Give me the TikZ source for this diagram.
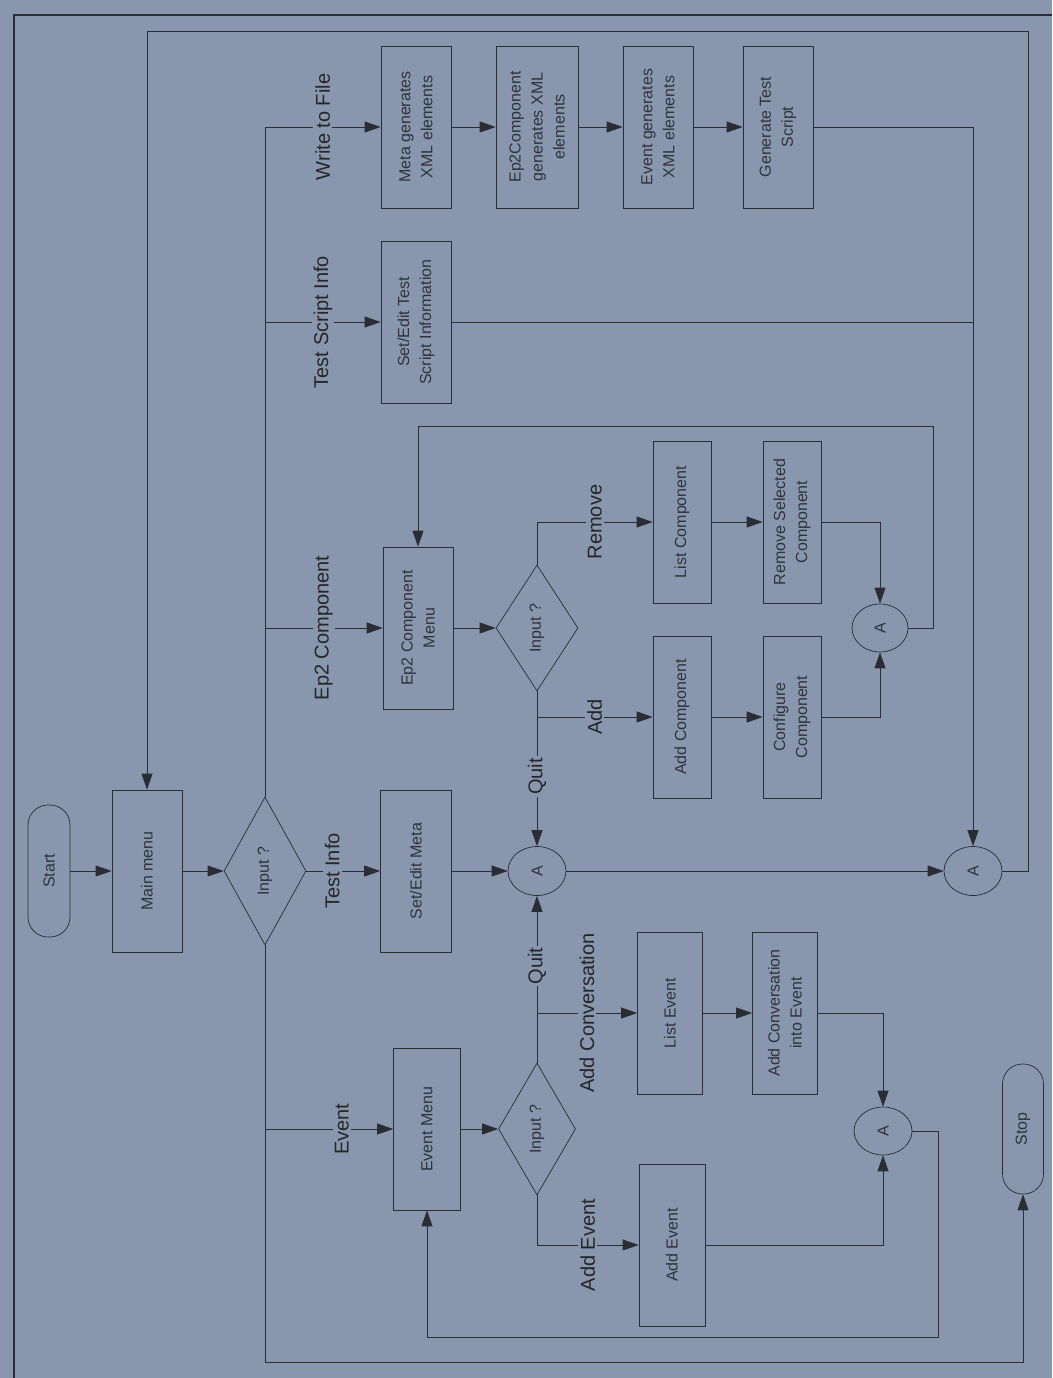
\documentclass[tikz,border=0pt]{standalone}
\usepackage{fontspec}
\setmainfont{Liberation Sans}
\usetikzlibrary{arrows.meta,calc,positioning,shapes.geometric}
\definecolor{BgClr}{RGB}{136,151,174}
\definecolor{LineClr}{RGB}{42,45,52}
\definecolor{TxtClr}{RGB}{48,50,58}

\begin{document}
\begin{tikzpicture}[x=1pt,y=-1pt,
  every node/.style={rotate=90,font=\fontsize{16}{22}\selectfont,text=TxtClr},
  box/.style={draw=LineClr,line width=0.7pt,minimum width=162pt,minimum height=70pt,inner sep=1pt,align=center},
  term/.style={draw=LineClr,line width=0.7pt,rounded corners=20pt,inner sep=1pt},
  dia/.style={diamond,draw=LineClr,line width=0.7pt,inner sep=0pt},
  ell/.style={ellipse,draw=LineClr,line width=0.7pt,minimum width=49pt,minimum height=58pt,inner sep=0pt},
  lbl/.style={fill=BgClr,inner sep=2pt,font=\fontsize{20}{24}\selectfont,text=black!85},
  conn/.style={draw=LineClr,line width=0.8pt},
  arr/.style={conn,-{Triangle[length=16pt,width=11pt]}}]

\fill[BgClr] (0,0) rectangle (1052,1378);
\useasboundingbox (0,0) rectangle (1052,1378);
\draw[LineClr,line width=1.2pt] (14,1378) -- (14,15) -- (1052,15);

\coordinate (lp1) at (1028,31);
\coordinate (lp2) at (933,426);
\coordinate (lp3) at (938,1337);
\coordinate (sc) at (1023,1362);

\node[term,minimum width=132pt,minimum height=42pt] (start) at (49,871) {Start};
\node[box] (mm) at (147,871) {Main menu};
\node[dia,minimum width=148pt,minimum height=82pt] (dm) at (265,871) {Input ?};

\node[box] (metax) at (416,127) {Meta generates\\XML elements};
\node[box,minimum height=82pt] (ep2x) at (537,127) {Ep2Component\\generates XML\\elements};
\node[box] (evx) at (658,127) {Event generates\\XML elements};
\node[box] (gts) at (778,127) {Generate Test\\Script};
\node[box] (sets) at (416,322) {Set/Edit Test\\Script Information};

\node[box] (ep2m) at (418,628) {Ep2 Component\\Menu};
\node[dia,minimum width=126pt,minimum height=82pt] (d2) at (537,628) {Input ?};
\node[box,minimum height=58pt] (lc) at (682,522) {List Component};
\node[box,minimum height=58pt] (rsc) at (792,522) {Remove Selected\\Component};
\node[box,minimum height=58pt] (addc) at (682,717) {Add Component};
\node[box,minimum height=58pt] (cfg) at (792,717) {Configure\\Component};
\node[ell,minimum width=48pt,minimum height=56pt] (ea2) at (880,628) {A};

\node[box,minimum height=71pt] (sem) at (416,871) {Set/Edit Meta};
\node[ell] (ma) at (537,871) {A};
\node[ell] (fa) at (973,871) {A};

\node[box,minimum height=67pt] (evm) at (427,1129) {Event Menu};
\node[dia,minimum width=132pt,minimum height=77pt] (d3) at (537,1129) {Input ?};
\node[box,minimum height=65pt] (le) at (670,1013) {List Event};
\node[box,minimum height=65pt] (ace) at (785,1013) {Add Conversation\\into Event};
\node[box,minimum height=66pt] (ae) at (672,1245) {Add Event};
\node[ell,minimum width=48pt,minimum height=58pt] (ea3) at (883,1131) {A};
\node[term,minimum width=130pt,minimum height=41pt] (stop) at (1023,1129) {Stop};

\draw[arr] (start) -- (mm);
\draw[arr] (mm) -- (dm);
\draw[arr] (dm) |- (metax) node[lbl,pos=0.75] {Write to File};
\draw[arr] (dm) |- (sets) node[lbl,pos=0.75] {Test Script Info};
\draw[arr] (dm) |- (ep2m) node[lbl,pos=0.75] {Ep2 Component};
\draw[arr] (dm) -- (sem) node[lbl,pos=0.35] {Test Info};
\draw[arr] (dm) |- (evm) node[lbl,pos=0.8] {Event};
\draw[arr] (dm) |- (sc) -- (stop);

\draw[arr] (metax) -- (ep2x);
\draw[arr] (ep2x) -- (evx);
\draw[arr] (evx) -- (gts);
\draw[arr] (gts) -| (fa);
\draw[conn] (sets) -- (sets -| fa);

\draw[arr] (ep2m) -- (d2);
\draw[arr] (d2) |- (lc) node[lbl,pos=0.75] {Remove};
\draw[arr] (d2) |- (addc) node[lbl,pos=0.75] {Add};
\draw[arr] (lc) -- (rsc);
\draw[arr] (addc) -- (cfg);
\draw[arr] (rsc) -| (ea2);
\draw[arr] (cfg) -| (ea2);
\draw[arr] (ea2) -| (lp2) -| (ep2m);
\draw[arr] (d2) -- (ma) node[lbl,pos=0.55] {Quit};

\draw[arr] (sem) -- (ma);
\draw[arr] (ma) -- (fa);
\draw[arr] (fa) -| (lp1) -| (mm);

\draw[arr] (evm) -- (d3);
\draw[arr] (d3) |- (le) node[lbl,pos=0.75] {Add Conversation};
\draw[arr] (d3) |- (ae) node[lbl,pos=0.75] {Add Event};
\draw[arr] (le) -- (ace);
\draw[arr] (ace) -| (ea3);
\draw[arr] (ae) -| (ea3);
\draw[arr] (ea3) -| (lp3) -| (evm);
\draw[arr] (d3) -- (ma) node[lbl,pos=0.58] {Quit};

\end{tikzpicture}
\end{document}
